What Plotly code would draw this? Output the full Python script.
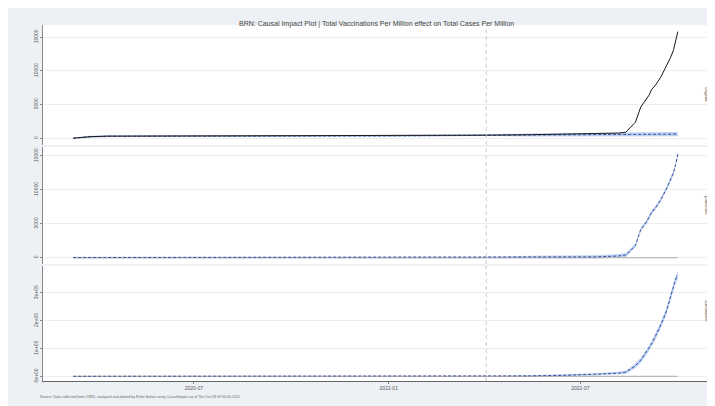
import plotly.graph_objects as go

# ---------------- data ----------------
dates = ["2020-03-09", "2020-03-15", "2020-03-25", "2020-04-10", "2020-05-10",
         "2020-08-01", "2020-11-01", "2021-01-01", "2021-03-01", "2021-04-03",
         "2021-05-15", "2021-06-15", "2021-07-15", "2021-08-06", "2021-08-13",
         "2021-08-22", "2021-08-27", "2021-09-01", "2021-09-04", "2021-09-06",
         "2021-09-10", "2021-09-15", "2021-09-20", "2021-09-24", "2021-09-27",
         "2021-09-29", "2021-10-01"]

original = [2, 100, 230, 310, 320, 325, 335, 350, 420, 460,
            530, 580, 640, 770, 900, 2390, 4630, 5670, 6420, 7160,
            7910, 9100, 10600, 11940, 13130, 14330, 15820]

predicted = [2, 100, 230, 300, 320, 325, 335, 350, 420, 460,
             480, 500, 520, 540, 550, 560, 565, 570, 575, 580,
             585, 590, 595, 600, 605, 610, 615]
predicted_lo = [0, 0, 90, 170, 190, 200, 210, 220, 290, 330,
                250, 260, 270, 280, 285, 290, 290, 295, 295, 300,
                300, 305, 305, 310, 310, 315, 315]
predicted_hi = [120, 220, 370, 430, 450, 450, 460, 480, 550, 590,
                710, 740, 770, 800, 815, 830, 840, 845, 855, 860,
                870, 875, 885, 890, 900, 905, 915]

pointwise = [0, 0, 0, 0, 0, 0, 0, 0, 0, 0,
             50, 80, 100, 230, 380, 1800, 4150, 5150, 5900, 6600,
             7350, 8550, 10050, 11350, 12550, 13750, 15250]
pointwise_lo = [-130, -130, -130, -130, -130, -130, -130, -130, -130, -130,
                -180, -160, -150, -40, 100, 1520, 3870, 4870, 5610, 6310,
                7060, 8260, 9750, 11050, 12250, 13450, 14950]
pointwise_hi = [130, 130, 130, 130, 130, 130, 130, 130, 130, 130,
                280, 320, 350, 500, 660, 2080, 4430, 5430, 6190, 6890,
                7640, 8840, 10350, 11650, 12850, 14050, 15550]

cumulative = [0, 0, 0, 0, 0, 0, 0, 0, 0, 0,
              1500, 3500, 6500, 11000, 15000, 38000, 58000, 85000, 103000, 115000,
              145000, 185000, 232000, 286000, 322000, 350000, 364000]
cumulative_lo = [0, 0, 0, 0, 0, 0, 0, 0, 0, 0,
                 -500, 500, 2500, 6000, 9000, 30000, 49000, 76000, 93500, 105000,
                 134500, 174000, 220000, 273000, 308500, 336000, 349500]
cumulative_hi = [0, 0, 0, 0, 0, 0, 0, 0, 0, 0,
                 3500, 6500, 10500, 16000, 21000, 46000, 67000, 94000, 112500, 125000,
                 155500, 196000, 244000, 299000, 335500, 364000, 378500]

intervention_date = "2021-04-03"
x_range = ["2020-02-09 12:00", "2021-10-29 12:00"]
x_tickvals = ["2020-07-01", "2021-01-01", "2021-07-01"]
x_ticktext = ["2020-07", "2021-01", "2021-07"]

panel_labels = ["original", "pointwise", "cumulative"]
y_tickvals = [[0, 5000, 10000, 15000], [0, 5000, 10000, 15000], [0, 100000, 200000, 300000]]
y_ticktext = [["0", "5000", "10000", "15000"], ["0", "5000", "10000", "15000"],
              ["0e+00", "1e+05", "2e+05", "3e+05"]]
y_ranges = [[-1000, 16800], [-950, 16300], [-17000, 397000]]

title = "BRN: Causal Impact Plot | Total Vaccinations Per Million effect on Total Cases Per Million"
caption = ("Source: Data collected from OWID, analyzed and plotted by Rohit Sahoo using "
           "CausalImpact as of Thu Oct 28 09:50:00 2021")

# ---------------- styling ----------------
OFF = 8                      # page body margin of the browser
W, H = 715 - OFF, 406 - OFF  # figure size so the page fits the window
BG = "#EDF1F5"
BAND = "rgba(150,185,235,0.65)"
PRED = "#3C4E9C"
FONT = "Liberation Sans, Arial, sans-serif"


def px_x(p):
    return (p - OFF) / W


def px_y(p):
    return 1 - (p - OFF) / H


x_dom = [px_x(43), px_x(708)]
y_doms = [[px_y(145), px_y(25)], [px_y(264), px_y(147)], [px_y(381), px_y(266)]]

fig = go.Figure()

series = [
    (predicted, predicted_lo, predicted_hi),
    (pointwise, pointwise_lo, pointwise_hi),
    (cumulative, cumulative_lo, cumulative_hi),
]

for i, (vals, lo, hi) in enumerate(series):
    xa = "x" if i == 0 else f"x{i+1}"
    ya = "y" if i == 0 else f"y{i+1}"
    fig.add_trace(go.Scatter(x=dates, y=hi, xaxis=xa, yaxis=ya, mode="lines",
                             line=dict(width=0), hoverinfo="skip", showlegend=False))
    fig.add_trace(go.Scatter(x=dates, y=lo, xaxis=xa, yaxis=ya, mode="lines",
                             line=dict(width=0), fill="tonexty", fillcolor=BAND,
                             hoverinfo="skip", showlegend=False))
    if i > 0:
        fig.add_trace(go.Scatter(x=[dates[0], dates[-1]], y=[0, 0], xaxis=xa, yaxis=ya,
                                 mode="lines", line=dict(color="#B8B8B8", width=1.2),
                                 showlegend=False))
    fig.add_trace(go.Scatter(x=dates, y=vals, xaxis=xa, yaxis=ya, mode="lines",
                             line=dict(color=PRED, width=1, dash="3px,2px"),
                             showlegend=False))
    if i == 0:
        fig.add_trace(go.Scatter(x=dates, y=original, xaxis=xa, yaxis=ya, mode="lines",
                                 line=dict(color="#1a1a1a", width=1), showlegend=False))

layout = dict(
    width=W, height=H,
    margin=dict(l=0, r=0, t=0, b=0, autoexpand=False),
    paper_bgcolor=BG, plot_bgcolor="white",
    font=dict(family=FONT, size=5, color="#555555"),
    showlegend=False,
)

for i in range(3):
    xk = "xaxis" if i == 0 else f"xaxis{i+1}"
    yk = "yaxis" if i == 0 else f"yaxis{i+1}"
    ya = "y" if i == 0 else f"y{i+1}"
    xa = "x" if i == 0 else f"x{i+1}"
    layout[xk] = dict(domain=x_dom, anchor=ya, range=x_range, type="date",
                      tickvals=x_tickvals, ticktext=x_ticktext,
                      showticklabels=(i == 2), ticks="outside" if i == 2 else "",
                      ticklen=2, tickcolor="#888888",
                      showgrid=False, zeroline=False,
                      showline=(i == 2), linecolor="#666666", linewidth=1,
                      tickfont=dict(size=5, color="#555555"))
    layout[yk] = dict(domain=y_doms[i], anchor=xa, range=y_ranges[i],
                      tickvals=y_tickvals[i], ticktext=y_ticktext[i],
                      tickangle=-90, ticks="outside", ticklen=2, tickcolor="#888888",
                      showgrid=True, gridcolor="#EDEDED", gridwidth=0.8,
                      zeroline=False, showline=True, linecolor="#8a8a8a", linewidth=1,
                      tickfont=dict(size=5, color="#555555"))

fig.update_layout(**layout)

for i in range(3):
    xa = "x" if i == 0 else f"x{i+1}"
    ya = "y" if i == 0 else f"y{i+1}"
    fig.add_shape(type="line", xref=xa, yref=f"{ya} domain",
                  x0=intervention_date, x1=intervention_date, y0=0, y1=1,
                  line=dict(color="#BDBDBD", width=0.8, dash="4px,3px"))

for i in range(3):
    fig.add_shape(type="rect", xref="paper", yref="paper",
                  x0=px_x(708), x1=1.0, y0=y_doms[i][0], y1=y_doms[i][1],
                  fillcolor="#E4E9EE", line=dict(width=0), layer="below")
    fig.add_annotation(xref="paper", yref="paper", x=px_x(711),
                       y=(y_doms[i][0] + y_doms[i][1]) / 2,
                       text=panel_labels[i], textangle=90, showarrow=False,
                       font=dict(size=4.5, color="#555555"))

fig.add_annotation(xref="paper", yref="paper", x=px_x(376), y=px_y(18),
                   text=title, showarrow=False,
                   font=dict(size=7, color="#444444"))
fig.add_annotation(xref="paper", yref="paper", x=px_x(38), y=px_y(401),
                   xanchor="left", text=caption, showarrow=False,
                   font=dict(size=3.6, color="#666666"))

fig.write_html("out.html")
